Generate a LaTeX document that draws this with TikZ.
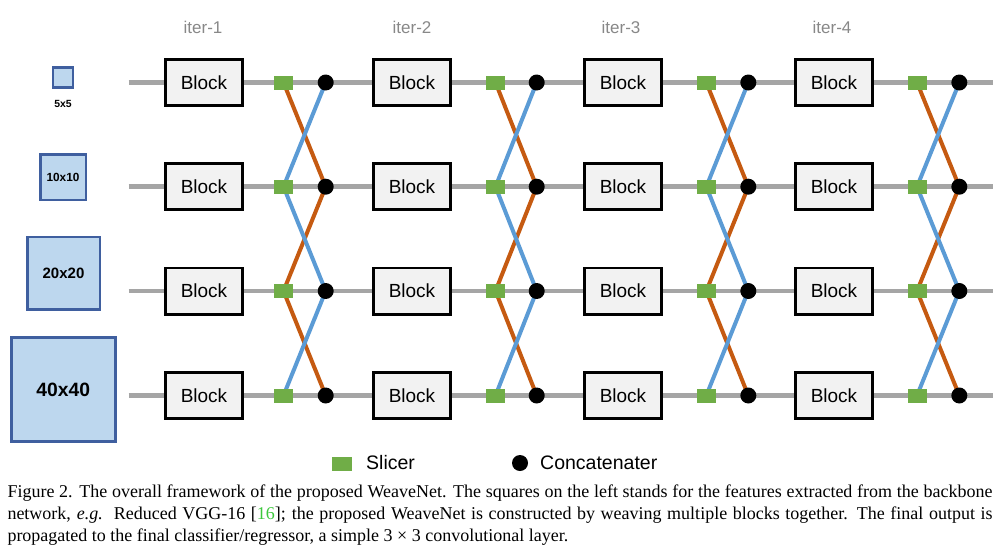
\documentclass[tikz,border=0pt]{standalone}
\usepackage{fontspec}
\setmainfont{Liberation Serif}
\newfontfamily\arial{Liberation Sans}
\definecolor{lgray}{HTML}{A5A5A5}
\definecolor{orangec}{HTML}{C55A11}
\definecolor{bluec}{HTML}{5B9BD5}
\definecolor{sgreen}{HTML}{70AD47}
\definecolor{blockfill}{HTML}{F2F2F2}
\definecolor{sqfill}{HTML}{BDD7EE}
\definecolor{sqborder}{HTML}{3F5F9F}
\definecolor{itergray}{HTML}{888888}
\definecolor{citegreen}{RGB}{60,200,60}
\pgfdeclarelayer{greyL}
\pgfdeclarelayer{colL}
\pgfsetlayers{greyL,colL,main}
\begin{document}
\begin{tikzpicture}[x=1pt,y=-1pt,
  gline/.style={draw=lgray,line width=4.5pt},
  oline/.style={draw=orangec,line width=4pt},
  bline/.style={draw=bluec,line width=4pt},
  blockbox/.style={draw=black,line width=2.8pt,fill=blockfill,minimum width=77.2pt,minimum height=46.2pt,inner sep=0pt,font=\arial\fontsize{19}{22}\selectfont},
  slicer/.style={fill=sgreen,minimum width=19pt,minimum height=14pt,inner sep=0pt},
  concat/.style={circle,fill=black,minimum size=16pt,inner sep=0pt},
  featsq/.style={draw=sqborder,fill=sqfill,line width=2.5pt,inner sep=0pt},
  iterlabel/.style={inner sep=0pt,text=itergray,font=\arial\fontsize{17}{20}\selectfont},
  legtext/.style={inner sep=0pt,anchor=west,font=\arial\fontsize{19.5}{22}\selectfont}
]
\useasboundingbox (0,0) rectangle (1003,549);

% feature squares
\node[featsq,minimum size=20pt] (f5) at (63,77.5) {};
\node[inner sep=0pt,font=\arial\bfseries\fontsize{10.4}{12}\selectfont] (f5l) at (63,104) {5x5};
\node[featsq,minimum size=45.5pt,font=\arial\bfseries\fontsize{11.8}{14}\selectfont] (f10) at (63,177) {10x10};
\node[featsq,minimum size=72.5pt,font=\arial\bfseries\fontsize{15}{18}\selectfont] (f20) at (63.5,273) {20x20};
\node[featsq,minimum size=104pt,font=\arial\bfseries\fontsize{19.3}{22}\selectfont] (f40) at (63.3,389.7) {40x40};

% iteration labels
\node[iterlabel] (it1) at (203,27) {iter-1};
\node[iterlabel] (it2) at (412,27) {iter-2};
\node[iterlabel] (it3) at (621,27) {iter-3};
\node[iterlabel] (it4) at (832,27) {iter-4};

% rows
\foreach \r/\y in {1/82.5,2/186.7,3/291,4/395.5}{
  \coordinate (L\r) at (128.7,\y);
  \coordinate (R\r) at (993,\y);
  \foreach \i/\bx/\sx/\cx in {1/204/283.5/325.7,2/412/495.5/536.7,3/623/706.3/748.3,4/834/917/959.3}{
    \node[blockbox] (b\i\r) at (\bx,\y) {Block};
    \node[slicer] (s\i\r) at (\sx,\y) {};
    \node[concat] (c\i\r) at (\cx,\y) {};
  }
}
\begin{pgfonlayer}{greyL}
\foreach \r in {1,2,3,4}{
  \draw[gline] (L\r) -- (R\r);
}
\end{pgfonlayer}
\begin{pgfonlayer}{colL}
\foreach \i in {1,2,3,4}{
  \draw[oline] (s\i1.center) -- (c\i2.center);
  \draw[oline] (s\i3.center) -- (c\i2.center);
  \draw[oline] (s\i3.center) -- (c\i4.center);
  \draw[bline] (s\i2.center) -- (c\i1.center);
  \draw[bline] (s\i2.center) -- (c\i3.center);
  \draw[bline] (s\i4.center) -- (c\i3.center);
}
\end{pgfonlayer}

% legend
\node[slicer,minimum width=20pt] (legS) at (341.8,463.8) {};
\node[legtext] (legSt) at (366,463) {Slicer};
\node[concat] (legC) at (520,463) {};
\node[legtext] (legCt) at (540,463) {Concatenater};

% caption
\node[anchor=north west,inner sep=0pt,text width=985pt,align=justify,font=\fontsize{18}{22}\selectfont] (cap) at (7.3,481.9)
{\strut Figure 2. The overall framework of the proposed WeaveNet. The squares on the left stands for the features extracted from the backbone\linebreak network, \textit{e.g.}\ \ Reduced VGG-16 [\textcolor{citegreen}{16}]; the proposed WeaveNet is constructed by weaving multiple blocks together. The final output is\linebreak propagated to the final classifier/regressor, a simple 3 × 3 convolutional layer.};
\end{tikzpicture}
\end{document}
